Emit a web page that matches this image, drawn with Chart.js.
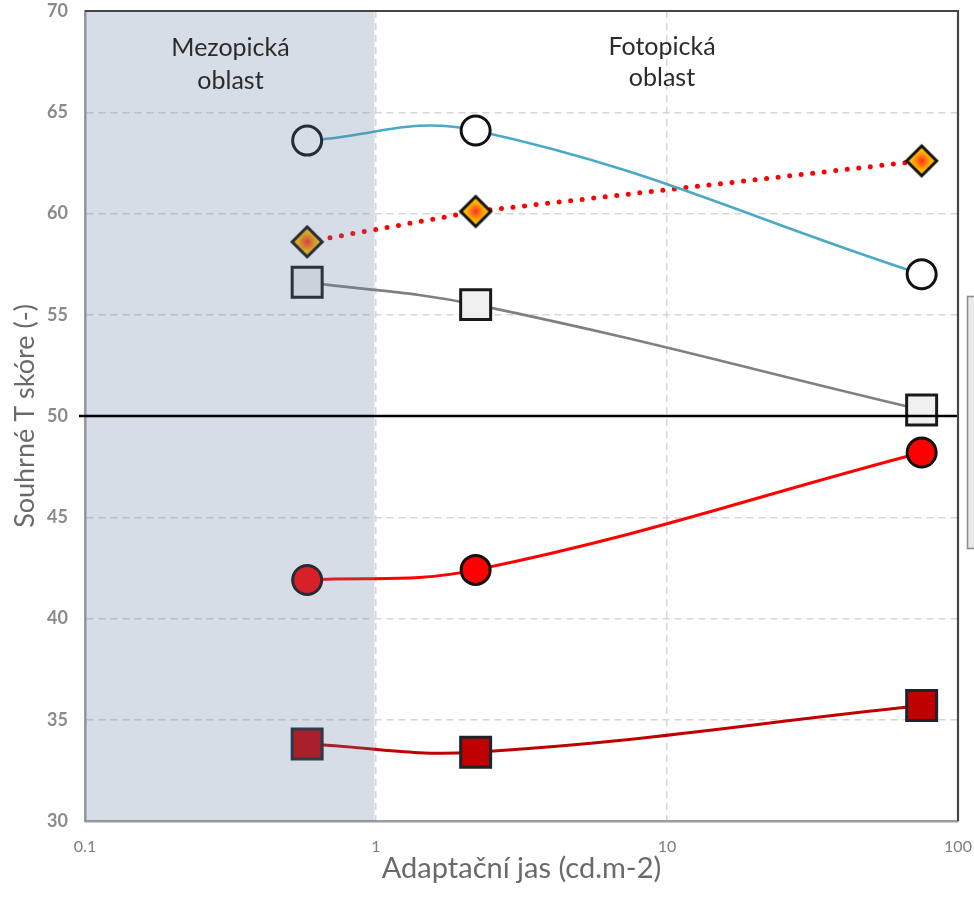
<!DOCTYPE html>
<html>
<head>
<meta charset="utf-8">
<script src="https://cdn.jsdelivr.net/npm/chart.js@4.4.0/dist/chart.umd.min.js"></script>
<style>
  html, body { margin: 0; padding: 0; background: #ffffff; }
  #wrap { width: 974px; height: 898px; position: relative; }
</style>
</head>
<body>
<div id="wrap"><canvas id="chart" width="974" height="898"></canvas></div>
<script>
// Adaptation luminance of the three measurement conditions (cd/m2)
const luminance = [0.58, 2.2, 75];

// Composite T scores per test group
const scoreWhiteCircle = [63.6, 64.1, 57.0];
const scoreDiamond     = [58.6, 60.1, 62.6];
const scoreGreySquare  = [56.6, 55.5, 50.3];
const scoreRedCircle   = [41.9, 42.4, 48.2];
const scoreDarkSquare  = [33.8, 33.4, 35.7];

// Axis ticks
const xTickValues = [0.1, 1, 10, 100];
const yMin = 30, yMax = 70, yStep = 5;
const referenceScore = 50;

// Vision regions along the luminance axis
const regionNames  = [['Mezopická', 'oblast'], ['Fotopická', 'oblast']];
const regionBounds = [[0.1, 1], [1, 100]];

const xTitle = 'Adaptační jas (cd.m-2)';
const yTitle = 'Souhrné T skóre (-)';

const FONT = 'Lato, "Open Sans", sans-serif';
const CLEAR = 'rgba(0,0,0,0)';

function toPoints(values) {
  return luminance.map((x, i) => ({ x: x, y: values[i] }));
}

// Diamond marker with a red-to-gold radial fill
function makeDiamond() {
  const size = 38, c = size / 2, r = 15;
  const cv = document.createElement('canvas');
  cv.width = size; cv.height = size;
  const g = cv.getContext('2d');
  const grad = g.createRadialGradient(c, c, 0, c, c, r * 0.85);
  grad.addColorStop(0, '#ff2a1e');
  grad.addColorStop(0.3, '#ff6a14');
  grad.addColorStop(0.7, '#ffb400');
  grad.addColorStop(1, '#f2c200');
  g.beginPath();
  g.moveTo(c, c - r); g.lineTo(c + r, c); g.lineTo(c, c + r); g.lineTo(c - r, c); g.closePath();
  g.fillStyle = grad; g.fill();
  g.lineWidth = 3; g.strokeStyle = '#111111'; g.lineJoin = 'miter'; g.stroke();
  return cv;
}
const diamondMarker = makeDiamond();

const overlayPlugin = {
  id: 'regions',
  beforeDraw(chart) {
    const ctx = chart.ctx;
    ctx.save();
    ctx.fillStyle = '#ffffff';
    ctx.fillRect(0, 0, chart.width, chart.height);
    ctx.restore();
  },
  afterDatasetsDraw(chart) {
    const { ctx, chartArea: a, scales: { x, y } } = chart;
    ctx.save();
    // mesopic band, translucent over the series
    const x0 = x.getPixelForValue(regionBounds[0][0]);
    const x1 = x.getPixelForValue(regionBounds[0][1]);
    ctx.fillStyle = 'rgba(97,123,163,0.26)';
    ctx.fillRect(x0, a.top, x1 - x0 - 1.5, a.bottom - a.top);

    // reference line at T = 50
    const y50 = y.getPixelForValue(referenceScore);
    ctx.strokeStyle = '#000000';
    ctx.lineWidth = 2.5;
    ctx.beginPath();
    ctx.moveTo(a.left - 6, y50); ctx.lineTo(a.right, y50);
    ctx.stroke();

    // top and right frame
    ctx.strokeStyle = '#454545';
    ctx.lineWidth = 2.2;
    ctx.beginPath();
    ctx.moveTo(a.left, a.top); ctx.lineTo(a.right, a.top); ctx.lineTo(a.right, a.bottom);
    ctx.stroke();

    // region captions
    ctx.fillStyle = '#2b2b2b';
    ctx.font = '25px ' + FONT;
    ctx.textAlign = 'center';
    ctx.textBaseline = 'alphabetic';
    const baselines = [[56, 89], [55, 86]];
    regionBounds.forEach((b, i) => {
      const cx = (x.getPixelForValue(b[0]) + x.getPixelForValue(b[1])) / 2 - (i === 1 ? 5 : 0);
      regionNames[i].forEach((line, j) => ctx.fillText(line, cx, baselines[i][j]));
    });

    // edge of the legend box beside the plot
    ctx.fillStyle = '#e9e9e9';
    ctx.fillRect(967, 296, 30, 252);
    ctx.strokeStyle = '#8e8e8e';
    ctx.lineWidth = 1.6;
    ctx.strokeRect(967.5, 296.5, 30, 252);
    ctx.restore();
  }
};

const lineBase = { tension: 0.4, fill: false, clip: false };

new Chart(document.getElementById('chart'), {
  type: 'line',
  data: {
    datasets: [
      {
        ...lineBase,
        data: toPoints(scoreWhiteCircle),
        borderColor: '#4aaac6', borderWidth: 2.6,
        pointStyle: 'circle', pointRadius: 14.5, pointHoverRadius: 14.5,
        pointBackgroundColor: '#ffffff', pointBorderColor: '#111111', pointBorderWidth: 3
      },
      {
        ...lineBase, tension: 0,
        data: toPoints(scoreDiamond),
        borderColor: '#ff0000', borderWidth: 5, borderDash: [0, 11.6], borderCapStyle: 'round',
        pointStyle: diamondMarker, pointRadius: 16, pointHoverRadius: 16
      },
      {
        ...lineBase,
        data: toPoints(scoreGreySquare),
        borderColor: '#808080', borderWidth: 2.6,
        pointStyle: 'rect', pointRadius: 21.2, pointHoverRadius: 21.2,
        pointBackgroundColor: '#f0f0f0', pointBorderColor: '#1a1a1a', pointBorderWidth: 3
      },
      {
        ...lineBase,
        data: toPoints(scoreRedCircle),
        borderColor: '#ff0000', borderWidth: 3,
        pointStyle: 'circle', pointRadius: 14.5, pointHoverRadius: 14.5,
        pointBackgroundColor: '#ff0000', pointBorderColor: '#111111', pointBorderWidth: 3
      },
      {
        ...lineBase,
        data: toPoints(scoreDarkSquare),
        borderColor: '#c00000', borderWidth: 3,
        pointStyle: 'rect', pointRadius: 21.2, pointHoverRadius: 21.2,
        pointBackgroundColor: '#c00000', pointBorderColor: '#1d2430', pointBorderWidth: 3
      }
    ]
  },
  options: {
    responsive: false,
    animation: false,
    events: [],
    layout: { autoPadding: false, padding: { left: 0, right: 16, top: 11, bottom: 0 } },
    plugins: { legend: { display: false }, tooltip: { enabled: false } },
    scales: {
      x: {
        type: 'logarithmic',
        min: 0.1, max: 100,
        afterBuildTicks(scale) { scale.ticks = xTickValues.map(v => ({ value: v })); },
        afterFit(scale) { scale.height = 77; },
        ticks: {
          autoSkip: false, maxRotation: 0, padding: 0,
          color: '#7d7d7d', font: { family: FONT, size: 16 },
          callback: (v) => String(v)
        },
        grid: {
          drawTicks: true, tickLength: 16, tickColor: CLEAR, lineWidth: 1.5,
          color: (c) => (c.tick && (c.tick.value === 1 || c.tick.value === 10)) ? '#d6d6d6' : CLEAR
        },
        border: { display: true, color: '#9c9c9c', width: 2.5, dash: [7, 5] },
        title: {
          display: true, text: xTitle, color: '#6a6a6a',
          font: { family: FONT, size: 29 }, padding: { top: 0, bottom: 12 }
        }
      },
      y: {
        min: yMin, max: yMax,
        afterFit(scale) { scale.width = 85; },
        ticks: {
          stepSize: yStep, padding: 0,
          color: '#8a8a8a', font: { family: FONT, size: 18, weight: 'bold' }
        },
        grid: {
          drawTicks: true, tickLength: 17, tickColor: CLEAR, lineWidth: 1.5,
          color: (c) => {
            const v = c.tick ? c.tick.value : null;
            return (v > yMin && v < yMax && v !== referenceScore) ? '#d6d6d6' : CLEAR;
          }
        },
        border: { display: true, color: '#9c9c9c', width: 2.5, dash: [7, 5] },
        title: {
          display: true, text: yTitle, color: '#6a6a6a',
          font: { family: FONT, size: 27 }, padding: { top: 9, bottom: 0 }
        }
      }
    }
  },
  plugins: [overlayPlugin]
});
</script>
</body>
</html>
